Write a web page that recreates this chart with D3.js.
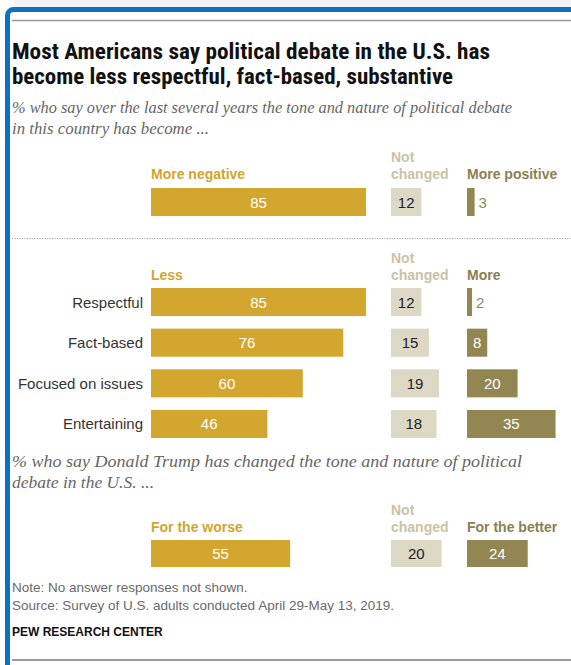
<!DOCTYPE html>
<html>
<head>
<meta charset="utf-8">
<script src="https://cdn.jsdelivr.net/npm/d3@7"></script>
<style>
  html, body { margin: 0; padding: 0; background: #fff; }
  svg { display: block; }
</style>
</head>
<body>
<div id="chart"></div>
<script>
// ---------- DATA ----------
const titleLines = [
  "Most Americans say political debate in the U.S. has",
  "become less respectful, fact-based, substantive"
];
const subtitleLines = [
  "% who say over the last several years the tone and nature of political debate",
  "in this country has become ..."
];
const overallHeaders = ["More negative", "Not changed", "More positive"];
const overallValues = [85, 12, 3];

const traitHeaders = ["Less", "Not changed", "More"];
const traits = ["Respectful", "Fact-based", "Focused on issues", "Entertaining"];
const lessValues = [85, 76, 60, 46];
const notChangedValues = [12, 15, 19, 18];
const moreValues = [2, 8, 20, 35];

const trumpSubtitleLines = [
  "% who say Donald Trump has changed the tone and nature of political",
  "debate in the U.S. ..."
];
const trumpHeaders = ["For the worse", "Not changed", "For the better"];
const trumpValues = [55, 20, 24];

const noteLines = [
  "Note: No answer responses not shown.",
  "Source: Survey of U.S. adults conducted April 29-May 13, 2019."
];
const sourceName = "PEW RESEARCH CENTER";

// ---------- STYLE ----------
const W = 571, H = 665;
const colors = ["#d2a62f", "#dcd8c4", "#928753"];
const headerColors = ["#d3a42c", "#c9c3a5", "#8b8052"];
const textOnBar = ["#ffffff", "#222222", "#ffffff"];
const sans = "'Liberation Sans', Arial, Helvetica, sans-serif";
const narrow = "'Liberation Sans Narrow', 'Roboto Condensed', 'Arial Narrow', 'Liberation Sans', Arial, sans-serif";
const serif = "Georgia, 'Liberation Serif', 'DejaVu Serif', serif";

const svg = d3.select("#chart").append("svg")
  .attr("width", W).attr("height", H);

// frame
svg.append("rect").attr("x", 14).attr("y", 0).attr("width", W).attr("height", 7).attr("fill", "#f3f3f3");
svg.append("rect")
  .attr("x", 7.5).attr("y", 9.5).attr("width", W + 20).attr("height", H + 20)
  .attr("rx", 6).attr("fill", "#fff")
  .attr("stroke", "#0b72c2").attr("stroke-width", 5);
svg.append("line").attr("x1", 12).attr("x2", W).attr("y1", 20.5).attr("y2", 20.5)
  .attr("stroke", "#9a9a9a").attr("stroke-width", 1.5);
svg.append("line").attr("x1", 12).attr("x2", W).attr("y1", 660).attr("y2", 660)
  .attr("stroke", "#9a9a9a").attr("stroke-width", 2);

function fit(sel, width) {
  sel.each(function () {
    const len = this.getComputedTextLength();
    if (Math.abs(len - width) > 1) {
      d3.select(this).attr("textLength", width).attr("lengthAdjust", "spacingAndGlyphs");
    }
  });
}

// title
const titleWidths = [478, 441];
titleLines.forEach((t, i) => {
  const el = svg.append("text").attr("x", 12).attr("y", 59 + i * 24.5)
    .attr("font-family", narrow).attr("font-weight", "bold").attr("font-size", 21.5)
    .attr("fill", "#111").text(t);
  fit(el, titleWidths[i]);
});

// subtitles
function subtitle(lines, widths, y0) {
  lines.forEach((t, i) => {
    const el = svg.append("text").attr("x", 12).attr("y", y0 + i * 21)
      .attr("font-family", serif).attr("font-style", "italic").attr("font-size", 16.5)
      .attr("fill", "#666").text(t);
    fit(el, widths[i]);
  });
}
subtitle(subtitleLines, [500, 197], 113);
subtitle(trumpSubtitleLines, [510, 142], 467);

// scales
const x = d3.scaleLinear().domain([0, 100]).range([0, 253]);
const colX = d3.scaleOrdinal().domain([0, 1, 2]).range([151, 391, 467]);

function headers(labels, baseline) {
  labels.forEach((lab, i) => {
    const g = svg.append("text").attr("x", colX(i)).attr("y", baseline)
      .attr("font-family", sans).attr("font-weight", "bold").attr("font-size", 14)
      .attr("fill", headerColors[i]);
    if (lab === "Not changed") {
      g.append("tspan").attr("x", colX(i)).attr("dy", -17.5).text("Not");
      g.append("tspan").attr("x", colX(i)).attr("dy", 17.5).text("changed");
    } else {
      g.text(lab);
    }
  });
}

function barRow(values, y0, h) {
  values.forEach((v, i) => {
    const w = x(v);
    svg.append("rect").attr("x", colX(i)).attr("y", y0).attr("width", w).attr("height", h)
      .attr("fill", colors[i]);
    const inside = v >= 5;
    svg.append("text")
      .attr("x", inside ? colX(i) + w / 2 : colX(i) + w + 4)
      .attr("y", y0 + h / 2 + 5.5)
      .attr("text-anchor", inside ? "middle" : "start")
      .attr("font-family", sans).attr("font-size", 15)
      .attr("fill", inside ? textOnBar[i] : colors[i])
      .text(v);
  });
}

// section 1
headers(overallHeaders, 179);
barRow(overallValues, 188, 28);

// dotted separator
svg.append("line").attr("x1", 12).attr("x2", W).attr("y1", 238.5).attr("y2", 238.5)
  .attr("stroke", "#999").attr("stroke-width", 1).attr("stroke-dasharray", "1,1.5");

// section 2
headers(traitHeaders, 280);
const yRow = d3.scaleBand().domain(traits).range([288, 438]).paddingInner(0.31).paddingOuter(0);
traits.forEach((t, r) => {
  const y0 = yRow(t), h = yRow.bandwidth();
  svg.append("text").attr("x", 143).attr("y", y0 + h / 2 + 5.5)
    .attr("text-anchor", "end").attr("font-family", sans).attr("font-size", 15)
    .attr("fill", "#333").text(t);
  barRow([lessValues[r], notChangedValues[r], moreValues[r]], y0, h);
});

// section 3
headers(trumpHeaders, 532);
barRow(trumpValues, 540, 27);

// notes
noteLines.forEach((t, i) => {
  svg.append("text").attr("x", 12).attr("y", 592 + i * 18)
    .attr("font-family", sans).attr("font-size", 13.5).attr("fill", "#6a6a6a").text(t);
});
svg.append("text").attr("x", 12).attr("y", 636)
  .attr("font-family", sans).attr("font-weight", "bold").attr("font-size", 12)
  .attr("fill", "#111").text(sourceName);
</script>
</body>
</html>
